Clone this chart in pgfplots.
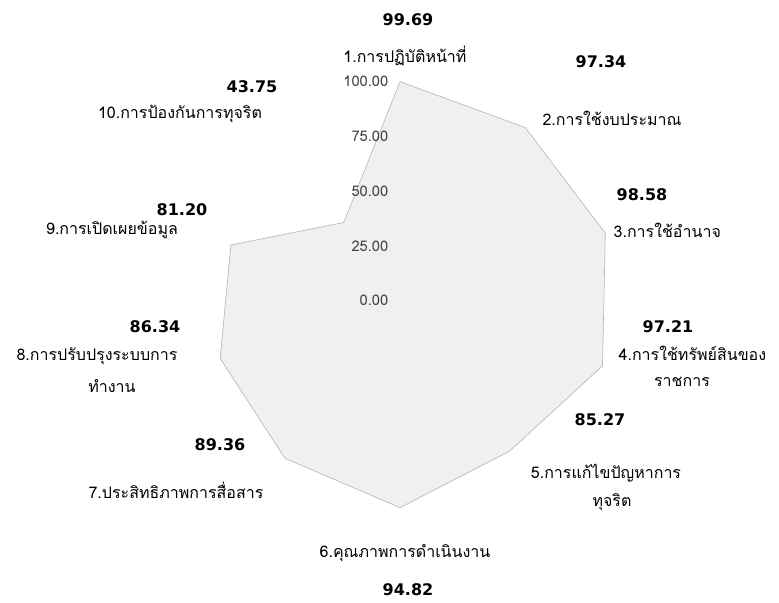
\documentclass[border=0pt]{standalone}
\usepackage{fontspec}
\usepackage{pgfplots}
\pgfplotsset{compat=1.18}
\setmainfont{Loma}[Script=Thai]
\newfontfamily\numfont{DejaVu Sans}
\newcommand\val[1]{{\numfont\bfseries\fontsize{12}{14}\selectfont #1}}
\newcommand\cat[1]{{\fontsize{12}{14}\selectfont #1}}
\newcommand\tck[1]{{\fontsize{11}{13}\selectfont #1}}
\begin{document}
\begin{tikzpicture}[x=0.75pt,y=0.75pt]
\useasboundingbox (0,0) rectangle (779,-603);
\begin{axis}[
  at={(0,0)}, anchor=north west,
  scale only axis, width=584.25pt, height=452.25pt,
  hide axis, clip=false, no markers,
  xmin=-182.65, xmax=173.06, ymin=-138.36, ymax=136.99,
]
% radar data (angle, value): categories clockwise from the top
\addplot[data cs=polar, fill=black!6, draw=black!28, line width=0.5pt]
  coordinates {(90,99.69) (54,97.34) (18,98.58) (-18,97.21) (-54,85.27)
               (-90,94.82) (-126,89.36) (-162,86.34) (-198,81.20) (-234,43.75) (90,99.69)};
\end{axis}
% radial tick labels
\node[anchor=east, text=black!75] at (393,-81)  {\tck{100.00}};
\node[anchor=east, text=black!75] at (393,-136) {\tck{75.00}};
\node[anchor=east, text=black!75] at (393,-191) {\tck{50.00}};
\node[anchor=east, text=black!75] at (393,-246) {\tck{25.00}};
\node[anchor=east, text=black!75] at (393,-300) {\tck{0.00}};
% values
\node at (408,-20)  {\val{99.69}};
\node at (601,-62)  {\val{97.34}};
\node at (642,-195) {\val{98.58}};
\node at (668,-327) {\val{97.21}};
\node at (600,-420) {\val{85.27}};
\node at (408,-590) {\val{94.82}};
\node at (220,-445) {\val{89.36}};
\node at (155,-327) {\val{86.34}};
\node at (182,-210) {\val{81.20}};
\node at (252,-87)  {\val{43.75}};
% category names
\node at (405,-56)  {\cat{1.การปฏิบัติหน้าที่}};
\node at (612,-118) {\cat{2.การใช้งบประมาณ}};
\node[anchor=west] at (609,-230) {\cat{3.การใช้อำนาจ}};
\node[anchor=west] at (614,-353) {\cat{4.การใช้ทรัพย์สินของ}};
\node at (682,-382) {\cat{ราชการ}};
\node at (606,-473) {\cat{5.การแก้ไขปัญหาการ}};
\node at (612,-502) {\cat{ทุจริต}};
\node at (405,-553) {\cat{6.คุณภาพการดำเนินงาน}};
\node at (176,-490) {\cat{7.ประสิทธิภาพการสื่อสาร}};
\node at (97,-356)  {\cat{8.การปรับปรุงระบบการ}};
\node at (112,-386) {\cat{ทำงาน}};
\node at (112,-230) {\cat{9.การเปิดเผยข้อมูล}};
\node at (180,-114) {\cat{10.การป้องกันการทุจริต}};
\end{tikzpicture}
\end{document}
